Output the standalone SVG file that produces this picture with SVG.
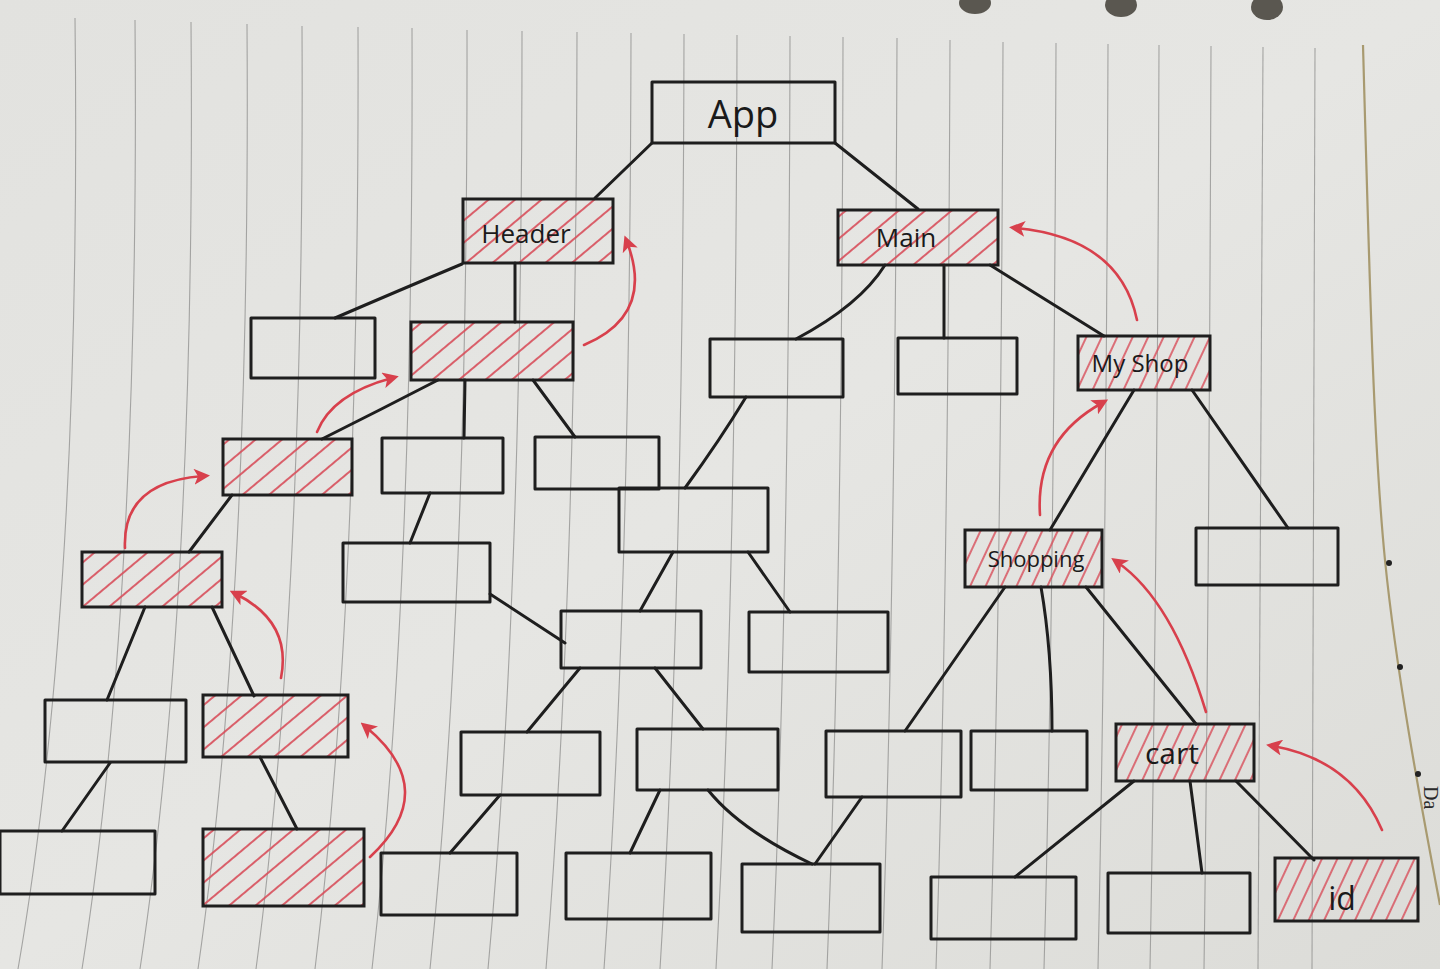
<svg xmlns="http://www.w3.org/2000/svg" width="1440" height="969" viewBox="0 0 1440 969">
<defs>
<linearGradient id="paper" x1="0" y1="0" x2="1" y2="1">
<stop offset="0" stop-color="#e2e2df"/>
<stop offset="0.5" stop-color="#e6e6e3"/>
<stop offset="1" stop-color="#dcdcd8"/>
</linearGradient>
<pattern id="hatch" patternUnits="userSpaceOnUse" width="17" height="17" patternTransform="rotate(50)">
<line x1="8" y1="0" x2="8" y2="17" stroke="#d8505c" stroke-width="1.8"/>
</pattern>
<pattern id="hatchSteep" patternUnits="userSpaceOnUse" width="14" height="14" patternTransform="rotate(25)">
<line x1="7" y1="0" x2="7" y2="14" stroke="#d8505c" stroke-width="1.6"/>
</pattern>
<marker id="redHead" markerWidth="16" markerHeight="16" refX="9" refY="8" orient="auto" markerUnits="userSpaceOnUse" viewBox="0 0 16 16">
<path d="M0,0 L16,8 L0,16 L4,8 Z" fill="#d8404c"/>
</marker>
<style>
.box{fill:none;stroke:#1e1e1e;stroke-width:3;stroke-linejoin:round}
.hb{fill:url(#hatch);stroke:#1e1e1e;stroke-width:3}
.hs{fill:url(#hatchSteep);stroke:#1e1e1e;stroke-width:3}
.edge{fill:none;stroke:#1e1e1e;stroke-width:3;stroke-linecap:round}
.red{fill:none;stroke:#d8404c;stroke-width:2.6;stroke-linecap:round;marker-end:url(#redHead)}
.rule{fill:none;stroke:#8e8e8c;stroke-width:1.1;opacity:0.75}
.lbl{font-family:"Open Sans","Liberation Sans",sans-serif;fill:#1a1a1a;text-anchor:middle}
</style>
</defs>

<g id="paper-bg">
<rect x="0" y="0" width="1440" height="969" fill="url(#paper)"/>
<g id="rules">
<path class="rule" d="M75,18 Q82,600 18,969"/>
<path class="rule" d="M135,20 Q140,600 82,969"/>
<path class="rule" d="M191,22 Q196,600 140,969"/>
<path class="rule" d="M247,24 Q251,600 198,969"/>
<path class="rule" d="M302,26 Q305,600 256,969"/>
<path class="rule" d="M358,27 Q360,600 315,969"/>
<path class="rule" d="M412,28 Q414,600 372,969"/>
<path class="rule" d="M467,30 Q468,600 430,969"/>
<path class="rule" d="M522,31 Q522,600 488,969"/>
<path class="rule" d="M577,32 Q576,600 546,969"/>
<path class="rule" d="M631,33 Q630,600 604,969"/>
<path class="rule" d="M684,34 Q683,600 660,969"/>
<path class="rule" d="M737,35 Q736,600 716,969"/>
<path class="rule" d="M790,36 Q789,600 772,969"/>
<path class="rule" d="M843,37 Q842,600 827,969"/>
<path class="rule" d="M897,38 Q895,600 882,969"/>
<path class="rule" d="M950,40 Q948,600 936,969"/>
<path class="rule" d="M1003,42 Q1001,600 990,969"/>
<path class="rule" d="M1056,43 Q1054,600 1044,969"/>
<path class="rule" d="M1108,44 Q1106,600 1098,969"/>
<path class="rule" d="M1159,45 Q1157,600 1150,969"/>
<path class="rule" d="M1211,46 Q1209,600 1204,969"/>
<path class="rule" d="M1263,47 Q1262,600 1258,969"/>
<path class="rule" d="M1315,48 Q1315,600 1312,969"/>
</g>
<path d="M1363,45 C1370,300 1374,450 1385,560 S1420,800 1440,905" fill="none" stroke="#a89a70" stroke-width="2.2"/>
<circle cx="1389" cy="563" r="3" fill="#222"/>
<circle cx="1400" cy="667" r="3" fill="#222"/>
<circle cx="1418" cy="774" r="3" fill="#222"/>
<text x="1424" y="786" transform="rotate(90 1424 786)" font-family="Liberation Serif, serif" font-size="20" fill="#2a2a2a">Da</text>
<ellipse cx="975" cy="3" rx="16" ry="11" fill="#5a5750"/>
<ellipse cx="1121" cy="5" rx="16" ry="12" fill="#5a5750"/>
<ellipse cx="1267" cy="7" rx="16" ry="13" fill="#5a5750"/>
</g>

<g id="connectors">
<path class="edge" d="M652,143 L595,198"/>
<path class="edge" d="M835,143 L918,209"/>
<path class="edge" d="M462,264 Q400,290 335,318"/>
<path class="edge" d="M515,263 L515,322"/>
<path class="edge" d="M885,265 Q860,305 796,339"/>
<path class="edge" d="M944,265 L944,338"/>
<path class="edge" d="M990,265 L1104,336"/>
<path class="edge" d="M438,380 Q380,410 322,439"/>
<path class="edge" d="M465,380 L464,438"/>
<path class="edge" d="M533,380 L575,437"/>
<path class="edge" d="M232,495 L189,552"/>
<path class="edge" d="M430,493 L410,543"/>
<path class="edge" d="M746,397 Q720,440 685,488"/>
<path class="edge" d="M490,594 L565,643"/>
<path class="edge" d="M673,552 L640,611"/>
<path class="edge" d="M748,552 L790,612"/>
<path class="edge" d="M145,607 L107,700"/>
<path class="edge" d="M212,607 L254,696"/>
<path class="edge" d="M110,763 L62,831"/>
<path class="edge" d="M260,757 L297,829"/>
<path class="edge" d="M580,668 L527,732"/>
<path class="edge" d="M655,668 L703,729"/>
<path class="edge" d="M500,795 Q470,830 450,853"/>
<path class="edge" d="M660,790 L630,853"/>
<path class="edge" d="M708,790 Q740,830 812,864"/>
<path class="edge" d="M862,797 L815,864"/>
<path class="edge" d="M1134,390 L1050,530"/>
<path class="edge" d="M1192,390 L1288,528"/>
<path class="edge" d="M1005,587 L905,731"/>
<path class="edge" d="M1041,587 Q1052,650 1052,731"/>
<path class="edge" d="M1086,587 L1196,724"/>
<path class="edge" d="M1134,781 L1015,877"/>
<path class="edge" d="M1190,781 L1202,873"/>
<path class="edge" d="M1236,781 L1314,860"/>
</g>

<g id="arrows">
<path class="red" d="M584,345 Q655,315 627,242"/>
<path class="red" d="M1137,320 Q1120,238 1016,228"/>
<path class="red" d="M317,432 Q332,394 392,378"/>
<path class="red" d="M125,548 Q122,482 203,476"/>
<path class="red" d="M281,678 Q292,622 236,594"/>
<path class="red" d="M370,857 Q442,790 366,727"/>
<path class="red" d="M1040,515 Q1035,440 1102,403"/>
<path class="red" d="M1206,712 Q1172,600 1117,562"/>
<path class="red" d="M1382,830 Q1352,760 1273,746"/>
</g>

<g id="n-app"><rect class="box" x="652" y="82" width="183" height="61"/><text class="lbl" x="743" y="128" font-size="38">App</text></g>
<g id="n-header"><rect class="hb" x="463" y="199" width="150" height="64"/><text class="lbl" x="526" y="243" font-size="26">Header</text></g>
<g id="n-main"><rect class="hb" x="838" y="210" width="160" height="55"/><text class="lbl" x="906" y="247" font-size="26">Main</text></g>
<g id="n-l1a"><rect class="box" x="251" y="318" width="124" height="60"/></g>
<g id="n-l1b"><rect class="hb" x="411" y="322" width="162" height="58"/></g>
<g id="n-m1"><rect class="box" x="710" y="339" width="133" height="58"/></g>
<g id="n-m2"><rect class="box" x="898" y="338" width="119" height="56"/></g>
<g id="n-myshop"><rect class="hs" x="1078" y="336" width="132" height="54"/><text class="lbl" x="1140" y="372" font-size="24">My Shop</text></g>
<g id="n-l2a"><rect class="hb" x="223" y="439" width="129" height="56"/></g>
<g id="n-l2b"><rect class="box" x="382" y="438" width="121" height="55"/></g>
<g id="n-l2c"><rect class="box" x="535" y="437" width="124" height="52"/></g>
<g id="n-m3"><rect class="box" x="619" y="488" width="149" height="64"/></g>
<g id="n-shopping"><rect class="hs" x="965" y="530" width="137" height="57"/><text class="lbl" x="1036" y="567" font-size="22">Shopping</text></g>
<g id="n-r1"><rect class="box" x="1196" y="528" width="142" height="57"/></g>
<g id="n-l3a"><rect class="hb" x="82" y="552" width="140" height="55"/></g>
<g id="n-l3b"><rect class="box" x="343" y="543" width="147" height="59"/></g>
<g id="n-m4"><rect class="box" x="561" y="611" width="140" height="57"/></g>
<g id="n-m5"><rect class="box" x="749" y="612" width="139" height="60"/></g>
<g id="n-l4a"><rect class="box" x="45" y="700" width="141" height="62"/></g>
<g id="n-l4b"><rect class="hb" x="203" y="695" width="145" height="62"/></g>
<g id="n-m6"><rect class="box" x="461" y="732" width="139" height="63"/></g>
<g id="n-m7"><rect class="box" x="637" y="729" width="141" height="61"/></g>
<g id="n-s1"><rect class="box" x="826" y="731" width="135" height="66"/></g>
<g id="n-s2"><rect class="box" x="971" y="731" width="116" height="59"/></g>
<g id="n-cart"><rect class="hs" x="1116" y="724" width="138" height="57"/><text class="lbl" x="1172" y="764" font-size="30">cart</text></g>
<g id="n-b1"><rect class="box" x="0" y="831" width="155" height="63"/></g>
<g id="n-b2"><rect class="hb" x="203" y="829" width="161" height="77"/></g>
<g id="n-b3"><rect class="box" x="381" y="853" width="136" height="62"/></g>
<g id="n-b4"><rect class="box" x="566" y="853" width="145" height="66"/></g>
<g id="n-b5"><rect class="box" x="742" y="864" width="138" height="68"/></g>
<g id="n-b6"><rect class="box" x="931" y="877" width="145" height="62"/></g>
<g id="n-b7"><rect class="box" x="1108" y="873" width="142" height="60"/></g>
<g id="n-id"><rect class="hs" x="1275" y="858" width="143" height="63"/><text class="lbl" x="1342" y="910" font-size="32">id</text></g>
</svg>
